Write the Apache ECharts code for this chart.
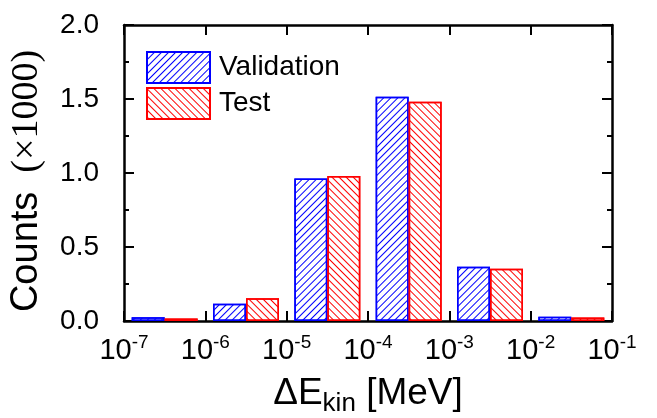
<!DOCTYPE html>
<html>
<head>
<meta charset="utf-8">
<script src="https://cdn.jsdelivr.net/npm/echarts@6/dist/echarts.min.js"></script>
<style>
  html, body { margin: 0; padding: 0; background: #fff; }
  #chart { width: 657px; height: 418px; }
</style>
</head>
<body>
<div id="chart"></div>
<script>
// lower edge of each bin, as exponent of 10 (bins are one decade wide)
var binLow = [-7, -6, -5, -4, -3, -2];
var exps = [-7, -6, -5, -4, -3, -2, -1];
// counts (x1000)
var validation = [0.025, 0.117, 0.962, 1.516, 0.367, 0.028];
var test = [0.017, 0.153, 0.980, 1.482, 0.353, 0.024];

var chart = echarts.init(document.getElementById('chart'));

var sans = 'Liberation Sans, Arial, sans-serif';

function hatch(color, rot) {
  return {
    symbol: 'rect',
    symbolSize: 1,
    dashArrayX: [1, 0],
    dashArrayY: [1, 3.8],
    rotation: rot,
    color: color
  };
}

function toPoints(vals) {
  return vals.map(function (v, i) { return [binLow[i] + 0.5, v]; });
}

var tickStyle = { color: '#000', width: 2 };
var lineStyle = { color: '#000', width: 2.5 };

var option = {
  animation: false,
  grid: { left: 124, right: 45, top: 25, bottom: 97, outerBoundsMode: 'none', containLabel: false },
  legend: {
    orient: 'vertical',
    left: 141,
    top: 46,
    itemWidth: 63,
    itemHeight: 31,
    itemGap: 3,
    icon: 'rect',
    textStyle: { fontFamily: sans, fontSize: 28, color: '#000', padding: [0, 0, 0, 4] },
    data: ['Validation', 'Test']
  },
  xAxis: [
    {
      type: 'value',
      min: exps[0], max: exps[exps.length - 1], interval: 1,
      position: 'bottom',
      axisLine: { show: true, onZero: false, lineStyle: lineStyle },
      axisTick: { show: true, inside: true, length: 10, lineStyle: tickStyle },
      splitLine: { show: false },
      axisLabel: {
        margin: 12,
        formatter: function (v) { return '{b|10}{s|' + v + '}'; },
        rich: {
          b: { fontFamily: sans, fontSize: 29, color: '#000', verticalAlign: 'bottom', lineHeight: 32 },
          s: { fontFamily: sans, fontSize: 19, color: '#000', verticalAlign: 'top', lineHeight: 32 }
        }
      },
      name: '{a|\u0394E}{sub|kin}{a| [MeV]}',
      nameLocation: 'middle',
      nameGap: 54,
      nameTextStyle: {
        rich: {
          a: { fontFamily: sans, fontSize: 37, color: '#000', verticalAlign: 'top', lineHeight: 42 },
          sub: { fontFamily: sans, fontSize: 26, color: '#000', verticalAlign: 'bottom', lineHeight: 42 }
        }
      }
    },
    {
      type: 'value',
      min: exps[0], max: exps[exps.length - 1], interval: 1,
      position: 'top',
      axisLine: { show: true, onZero: false, lineStyle: lineStyle },
      axisTick: { show: true, inside: true, length: 10, lineStyle: tickStyle },
      axisLabel: { show: false },
      splitLine: { show: false }
    }
  ],
  yAxis: [
    {
      type: 'value',
      min: 0, max: 2, interval: 0.5,
      position: 'left',
      axisLine: { show: true, onZero: false, lineStyle: lineStyle },
      axisTick: { show: true, inside: true, length: 10, lineStyle: tickStyle },
      minorTick: { show: true, splitNumber: 2, length: 5, lineStyle: tickStyle },
      splitLine: { show: false },
      axisLabel: {
        margin: 25,
        fontFamily: sans, fontSize: 28, color: '#000',
        formatter: function (v) { return v.toFixed(1); }
      },
      name: '{c|Counts}{p|  (\u00d71000)}',
      nameLocation: 'middle',
      nameRotate: 90,
      nameGap: 78,
      nameTextStyle: {
        padding: [0, 16, 0, 0],
        rich: {
          c: { fontFamily: sans, fontSize: 38, color: '#000' },
          p: { fontFamily: 'Liberation Serif, Times New Roman, serif', fontSize: 38, color: '#000' }
        }
      }
    },
    {
      type: 'value',
      min: 0, max: 2, interval: 0.5,
      position: 'right',
      axisLine: { show: true, onZero: false, lineStyle: lineStyle },
      axisTick: { show: true, inside: true, length: 10, lineStyle: tickStyle },
      minorTick: { show: true, splitNumber: 2, length: 5, lineStyle: tickStyle },
      splitLine: { show: false },
      axisLabel: { show: false }
    }
  ],
  series: [
    {
      name: 'Validation',
      type: 'bar',
      xAxisIndex: 0,
      yAxisIndex: 0,
      data: toPoints(validation),
      barWidth: 33,
      barGap: '0%',
      itemStyle: {
        color: '#fff',
        borderColor: '#0000ff',
        borderWidth: 1.5,
        decal: hatch('#0000ff', -Math.PI / 4)
      }
    },
    {
      name: 'Test',
      type: 'bar',
      xAxisIndex: 0,
      yAxisIndex: 0,
      data: toPoints(test),
      barWidth: 33,
      barGap: '0%',
      itemStyle: {
        color: '#fff',
        borderColor: '#ff0000',
        borderWidth: 1.5,
        decal: hatch('#ff0000', Math.PI / 4)
      }
    }
  ]
};

chart.setOption(option);
</script>
</body>
</html>
